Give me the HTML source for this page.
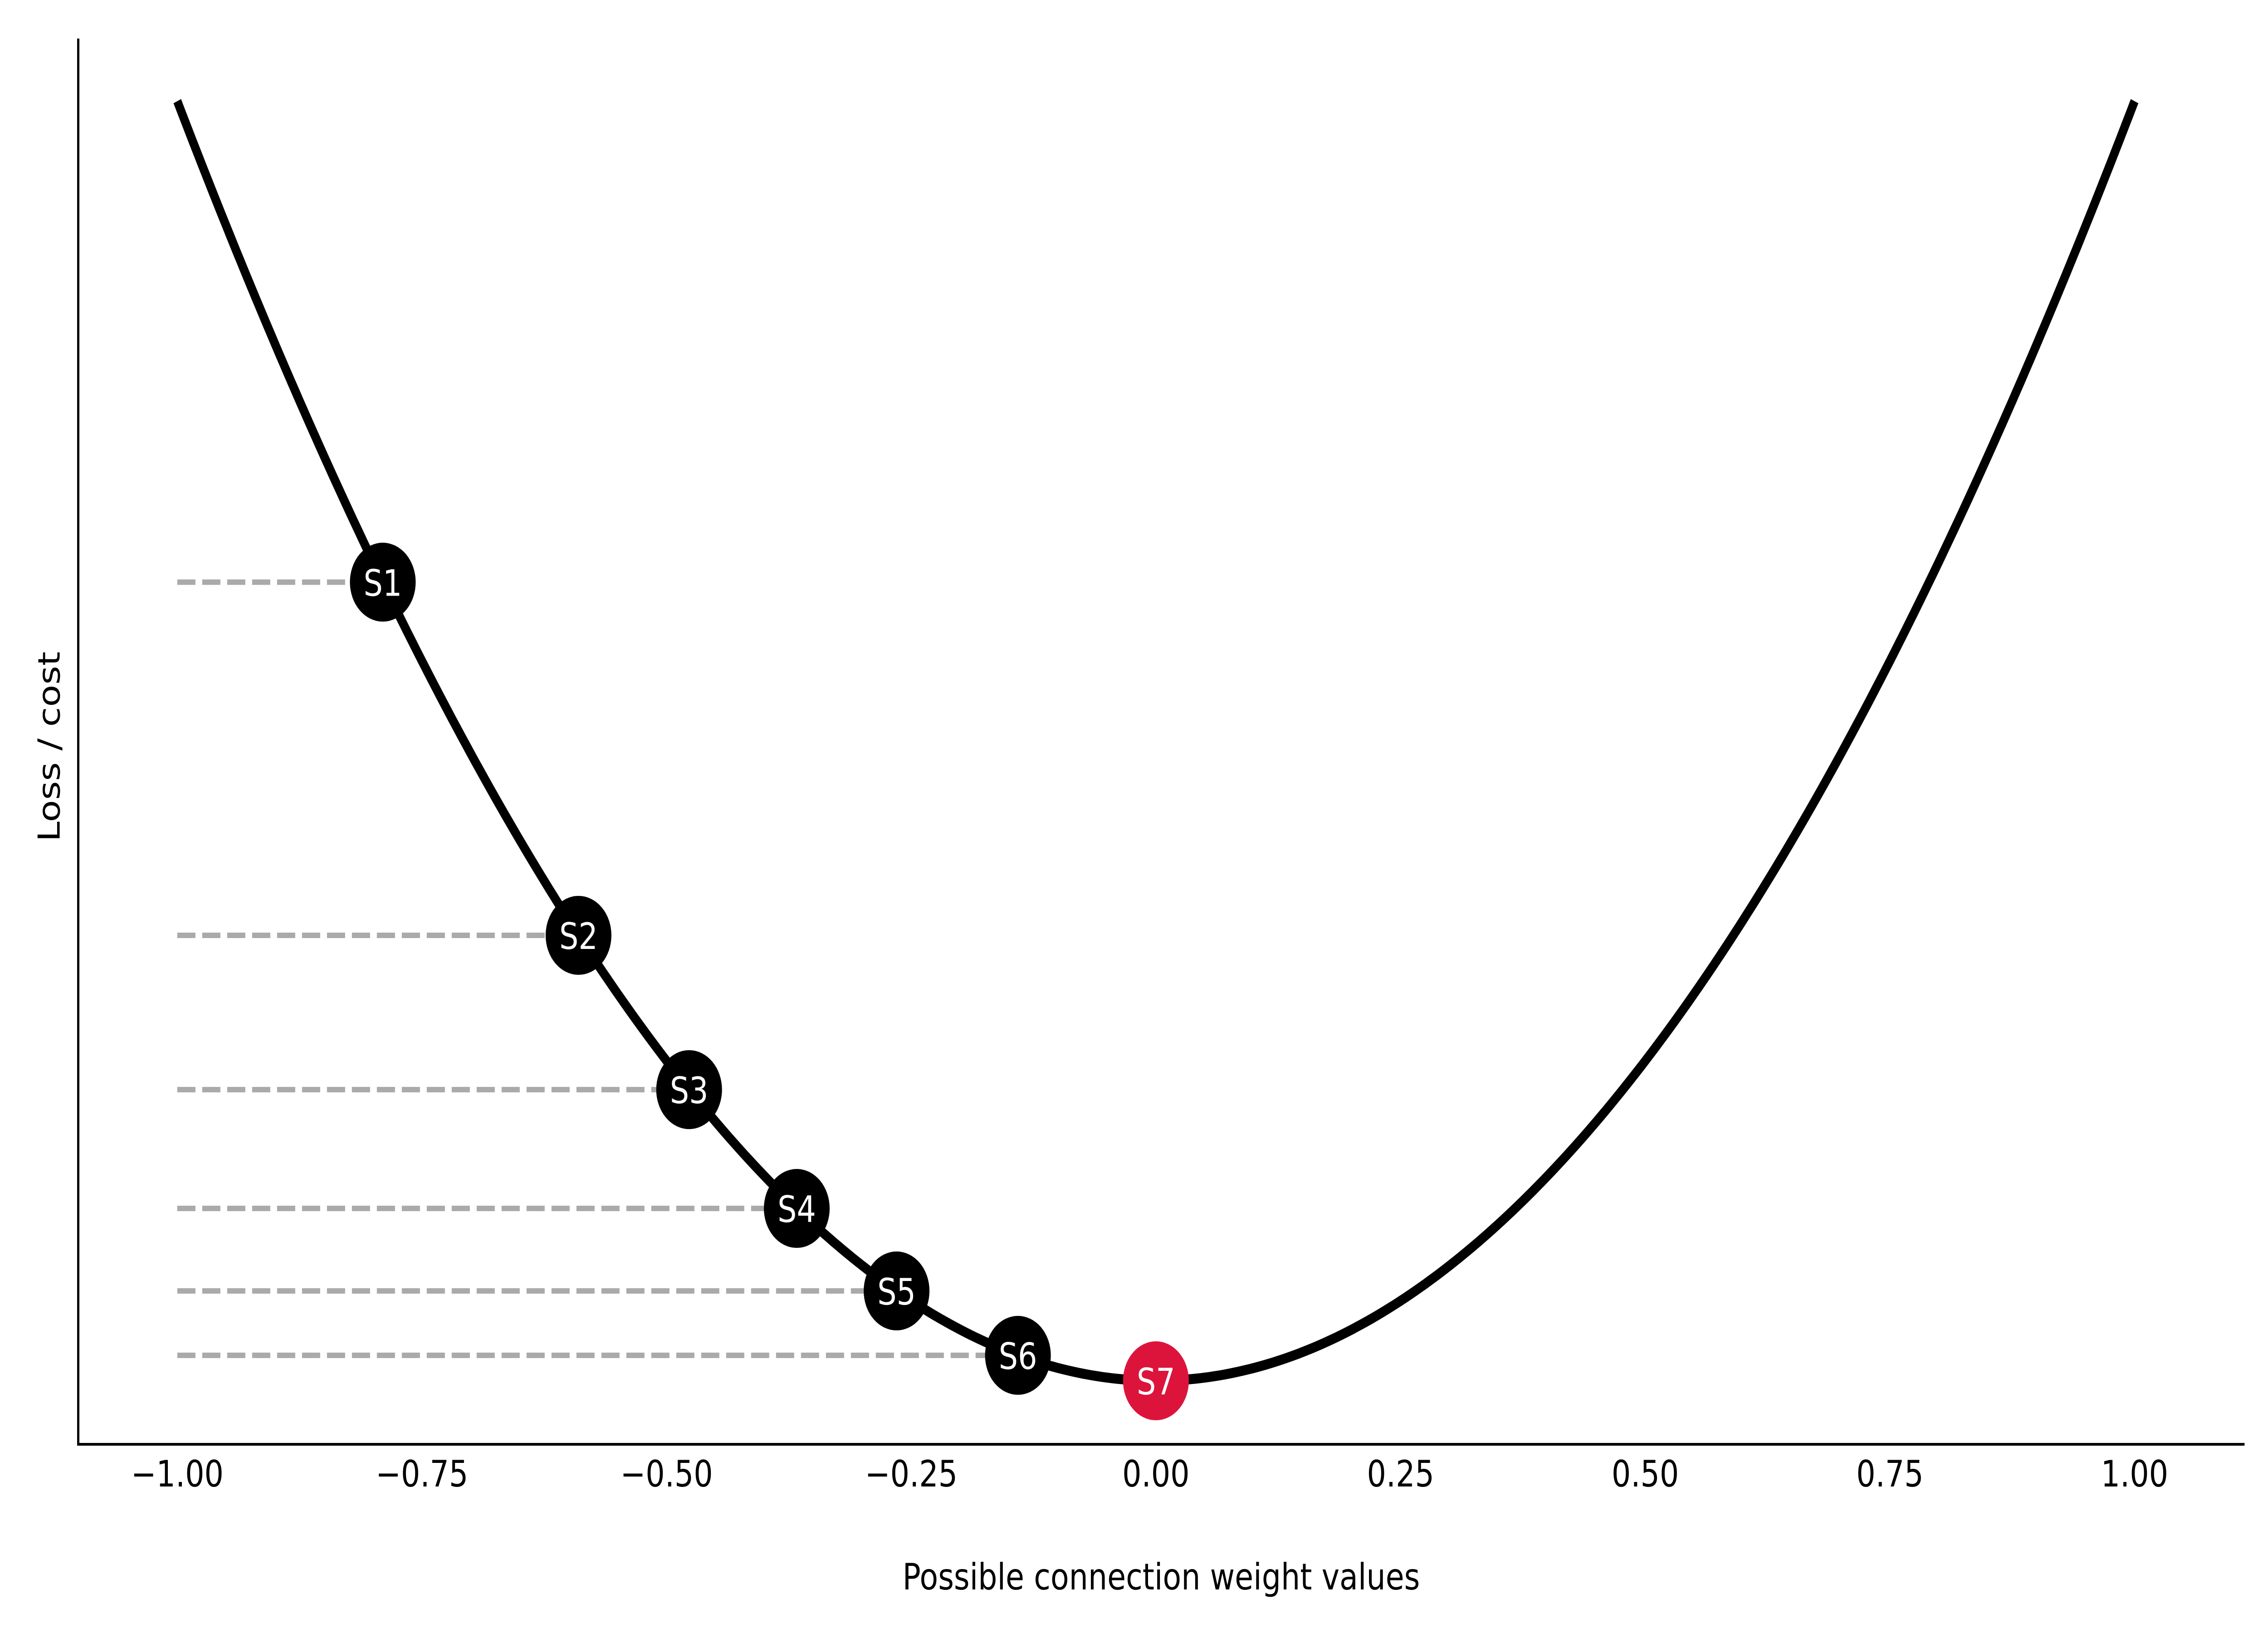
<!DOCTYPE html>
<html><head><meta charset="utf-8"><style>
html,body{margin:0;padding:0;background:#fff;overflow:hidden;width:100%;height:100%;}
svg{display:block;width:100vw;height:100vh;font-family:"DejaVu Sans","Liberation Sans",sans-serif;}
</style></head><body>
<svg id="chart" viewBox="0 0 6000 3600" preserveAspectRatio="none" xmlns="http://www.w3.org/2000/svg">
<rect width="6000" height="3600" fill="#fff"/>
<g id="dashes"></g>
<path id="curve" fill="none" stroke="#000" stroke-width="22"/>
<g id="points"></g>
<line x1="207" y1="85" x2="207" y2="3187" stroke="#000" stroke-width="6"/>
<line x1="204" y1="3184" x2="5938" y2="3184" stroke="#000" stroke-width="6"/>
<g id="xticks"></g>
<text x="3072" y="3504" font-size="80" text-anchor="middle">Possible connection weight values</text>
<text x="0" y="0" font-size="80" text-anchor="middle" transform="translate(158,1646) rotate(-90)">Loss / cost</text>
</svg>
<script>
const tickValues = [-1, -0.75, -0.5, -0.25, 0, 0.25, 0.5, 0.75, 1];
const tickLabels = ["\u22121.00","\u22120.75","\u22120.50","\u22120.25","0.00","0.25","0.50","0.75","1.00"];
const stepLabels = ["S1","S2","S3","S4","S5","S6","S7"];
const stepX = [-0.79, -0.59, -0.477, -0.367, -0.265, -0.141, 0];
const stepColors = ["#000","#000","#000","#000","#000","#000","#dc143c"];

const NS = "http://www.w3.org/2000/svg";
function xs(v){ return 3058 + 2589*v; }
function ys(l){ return 3044 - 2821*l; }
function loss(v){ return v*v; }

let d = "";
for (let i = 0; i <= 400; i++) {
  const v = -1 + 2*i/400;
  d += (i ? "L" : "M") + xs(v).toFixed(1) + "," + ys(loss(v)).toFixed(1);
}
document.getElementById("curve").setAttribute("d", d);

const dg = document.getElementById("dashes");
stepX.forEach((v, i) => {
  if (v === 0) return;
  const ln = document.createElementNS(NS, "line");
  
  
  ln.setAttribute("x1", xs(-1)); ln.setAttribute("x2", xs(v));
  ln.setAttribute("y1", ys(loss(v))); ln.setAttribute("y2", ys(loss(v)));
  ln.setAttribute("stroke", "#aaaaaa"); ln.setAttribute("stroke-width", "12");
  ln.setAttribute("stroke-dasharray", "48 18");
  dg.appendChild(ln);
});

const pg = document.getElementById("points");
stepX.forEach((v, i) => {
  const g = document.createElementNS(NS, "g");
  
  
  const c = document.createElementNS(NS, "circle");
  c.setAttribute("cx", xs(v)); c.setAttribute("cy", ys(loss(v)));
  c.setAttribute("r", 87); c.setAttribute("fill", stepColors[i]);
  g.appendChild(c);
  const t = document.createElementNS(NS, "text");
  t.setAttribute("x", xs(v)); t.setAttribute("y", ys(loss(v)) + 30);
  t.setAttribute("font-size", "80"); t.setAttribute("fill", "#fff");
  t.setAttribute("text-anchor", "middle");
  t.textContent = stepLabels[i];
  g.appendChild(t);
  pg.appendChild(g);
});

const tg = document.getElementById("xticks");
tickValues.forEach((v, i) => {
  const t = document.createElementNS(NS, "text");
  
  
  t.setAttribute("x", xs(v)); t.setAttribute("y", 3277);
  t.setAttribute("font-size", "80"); t.setAttribute("text-anchor", "middle");
  t.textContent = tickLabels[i];
  tg.appendChild(t);
});
</script>
</body></html>
